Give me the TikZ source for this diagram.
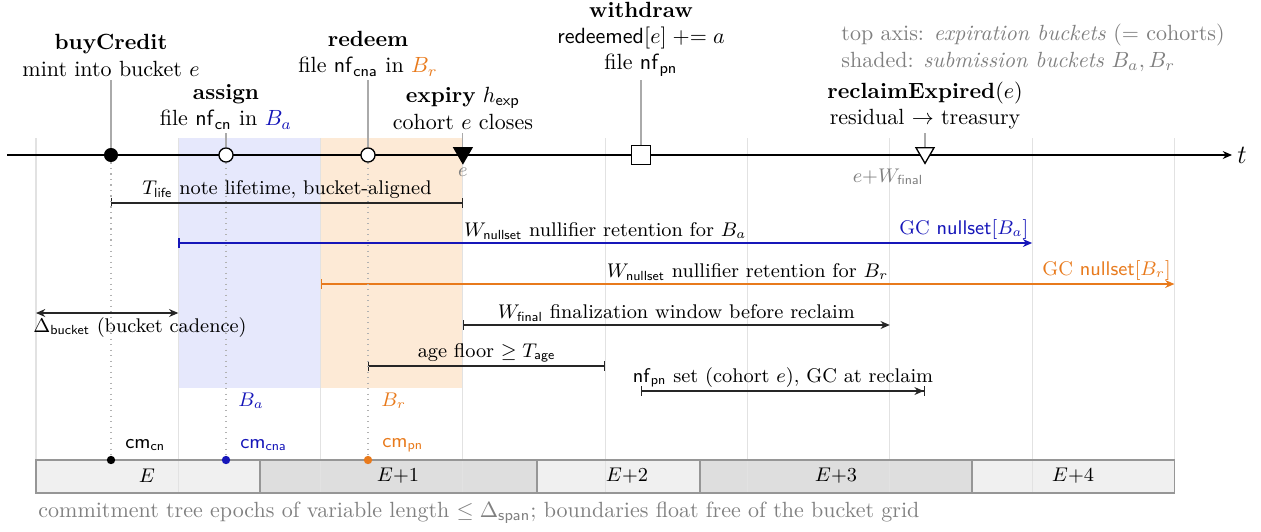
\documentclass[tikz,border=0pt]{standalone}
\usepackage{amsmath,amssymb}
\usetikzlibrary{arrows.meta,shapes.geometric}
\definecolor{cblue}{RGB}{22,22,185}
\definecolor{corange}{RGB}{232,122,28}
\definecolor{shadeblue}{RGB}{230,232,252}
\definecolor{shadeorange}{RGB}{253,234,214}
\definecolor{gridc}{RGB}{226,226,226}
\definecolor{epl}{RGB}{240,240,240}
\definecolor{epd}{RGB}{222,222,222}
\definecolor{epb}{RGB}{150,150,150}
\definecolor{stemc}{RGB}{170,170,170}
\definecolor{txtgray}{RGB}{128,128,128}
\tikzset{
  stem/.style={draw=stemc, line width=0.5pt},
  evlabel/.style={align=center, anchor=south, inner sep=1.5pt},
  rowlabel/.style={anchor=south, inner sep=1.5pt, font=\small},
  brk/.style={line width=0.6pt, draw=black!85},
  dotmark/.style={circle, fill=black, inner sep=0pt, minimum size=6.4pt},
  openmark/.style={circle, draw=black, fill=white, line width=0.6pt, inner sep=0pt, minimum size=6.4pt},
  cmdot/.style={circle, inner sep=0pt, minimum size=3.8pt},
  trimark/.style={regular polygon, regular polygon sides=3, shape border rotate=180, inner sep=0pt, minimum size=9.4pt, draw=black, line width=0.6pt},
  sqmark/.style={rectangle, draw=black, fill=white, line width=0.6pt, inner sep=0pt, minimum size=8.6pt},
  guide/.style={draw=black!30, dotted, line width=0.5pt},
  tipS/.tip={Stealth[length=4.2pt,width=3.6pt]},
  tipB/.tip={Bar[width=4.5pt]},
  small label/.style={inner sep=0pt, anchor=west, font=\small},
}
\begin{document}
\begin{tikzpicture}[x=0.4545pt,y=-0.4545pt]
\useasboundingbox (0,0) rectangle (1261,531);

% submission buckets shading
\fill[shadeblue] (178.3,138) rectangle (320.6,388);
\fill[shadeorange] (320.6,138) rectangle (462.9,388);

% epoch boxes
\fill[epl] (36,460) rectangle (260,493);
\fill[epd] (260,460) rectangle (537,493);
\fill[epl] (537,460) rectangle (700,493);
\fill[epd] (700,460) rectangle (972,493);
\fill[epl] (972,460) rectangle (1174.4,493);

% bucket grid
\foreach \k in {0,...,8} \draw[gridc, line width=0.5pt] (36+142.3*\k,138) -- (36+142.3*\k,493);

\draw[epb, line width=0.6pt] (36,460) rectangle (1174.4,493);
\foreach \x in {260,537,700,972} \draw[epb, line width=0.6pt] (\x,460) -- (\x,493);

\node[font=\small] (eE0) at (147,476) {$E$};
\node[font=\small] (eE1) at (398,476) {$E{+}1$};
\node[font=\small] (eE2) at (627,476) {$E{+}2$};
\node[font=\small] (eE3) at (836,476) {$E{+}3$};
\node[font=\small] (eE4) at (1073,476) {$E{+}4$};

% axis
\coordinate (ax0) at (7,155);
\coordinate (ax1) at (1232,155);
\draw[line width=0.6pt, -tipS] (ax0) -- (ax1);
\node (tlab) at (1242,155) {\large $t$};

% markers
\node[dotmark] (buy) at (111,155) {};
\node[openmark] (asg) at (226,155) {};
\node[openmark] (red) at (368,155) {};
\node[trimark, fill=black] (exp) at (462.9,153) {};
\node[sqmark] (wd) at (641,155) {};
\node[trimark, fill=white] (rec) at (925,153) {};

% event labels
\node[evlabel] (buyL) at (111,80) {\textbf{buyCredit}\\mint into bucket $e$};
\node[evlabel] (asgL) at (226,133) {\textbf{assign}\\file $\mathsf{nf}_{\mathsf{cn}}$ in {\color{cblue}$B_a$}};
\node[evlabel] (redL) at (368,80) {\textbf{redeem}\\file $\mathsf{nf}_{\mathsf{cna}}$ in {\color{corange}$B_r$}};
\node[evlabel] (expL) at (462.9,133) {\textbf{expiry} $h_{\mathsf{exp}}$\\cohort $e$ closes};
\node[evlabel] (wdL) at (641,80) {\textbf{withdraw}\\$\mathsf{redeemed}[e] \mathrel{+}= a$\\file $\mathsf{nf}_{\mathsf{pn}}$};
\node[evlabel] (recL) at (925,133) {\textbf{reclaimExpired}$(e)$\\residual $\rightarrow$ treasury};

\draw[stem] (buyL) -- (buy);
\draw[stem] (asgL) -- (asg);
\draw[stem] (redL) -- (red);
\draw[stem] (expL) -- (exp);
\draw[stem] (wdL) -- (wd);
\draw[stem] (recL) -- (rec);

\node[text=txtgray, font=\small] (eL) at (462.9,172) {$e$};
\node[text=txtgray, font=\small] (ewL) at (888,177) {$e{+}W_{\mathsf{final}}$};

% legend
\node[anchor=north west, align=left, inner sep=0pt, text=txtgray] (leg) at (841,24)
  {top axis: \textit{expiration buckets} (= cohorts)\\shaded: \textit{submission buckets} $B_a, B_r$};

% T_life
\coordinate (tl0) at (111,203); \coordinate (tl1) at (462.9,203);
\draw[brk, tipB-tipB] (tl0) -- (tl1) node[midway, rowlabel, text=black] (tlL) {$T_{\mathsf{life}}$ note lifetime, bucket-aligned};

% W_nullset for B_a
\coordinate (na0) at (178.3,243); \coordinate (na1) at (1032.1,243);
\draw[cblue, line width=0.6pt, tipB-tipS] (na0) -- (na1) node[midway, rowlabel, text=black] (naL) {$W_{\mathsf{nullset}}$ nullifier retention for $B_a$};
\node[rowlabel, anchor=south east, text=cblue] (gcaL) at (na1) {GC $\mathsf{nullset}[B_a]$};

% W_nullset for B_r
\coordinate (nr0) at (320.6,284); \coordinate (nr1) at (1174.4,284);
\draw[corange, line width=0.6pt, tipB-tipS] (nr0) -- (nr1) node[midway, rowlabel, text=black] (nrL) {$W_{\mathsf{nullset}}$ nullifier retention for $B_r$};
\node[rowlabel, anchor=south east, text=corange] (gcrL) at (nr1) {GC $\mathsf{nullset}[B_r]$};

% Delta_bucket
\coordinate (db0) at (36,313); \coordinate (db1) at (178.3,313);
\draw[brk, tipS-tipS] (db0) -- (db1);
\node[anchor=north west, inner sep=0pt, font=\small] (dbL) at (33,317) {$\Delta_{\mathsf{bucket}}$ (bucket cadence)};

% W_final
\coordinate (wf0) at (462.9,325); \coordinate (wf1) at (889.8,325);
\draw[brk, tipB-tipS] (wf0) -- (wf1) node[midway, rowlabel, text=black] (wfL) {$W_{\mathsf{final}}$ finalization window before reclaim};

% age floor
\coordinate (ag0) at (368,366); \coordinate (ag1) at (605.2,366);
\draw[brk, tipB-tipB] (ag0) -- (ag1) node[midway, rowlabel, text=black] (agL) {age floor $\geq T_{\mathsf{age}}$};

% nf_pn set
\coordinate (np0) at (641,391); \coordinate (np1) at (925,391);
\draw[brk, {Bar[width=4.5pt]}-{Stealth[length=4.2pt,width=3.6pt] Bar[width=4.5pt]}] (np0) -- (np1) node[midway, rowlabel, text=black] (npL) {$\mathsf{nf}_{\mathsf{pn}}$ set (cohort $e$), GC at reclaim};

% B labels
\node[small label, text=cblue] (baL) at (238,401) {$B_a$};
\node[small label, text=corange] (brL) at (381,401) {$B_r$};

% commitment dots
\node[cmdot, fill=black] (cmcn) at (111,460) {};
\node[cmdot, fill=cblue] (cmcna) at (226,460) {};
\node[cmdot, fill=corange] (cmpn) at (368,460) {};
\draw[guide] (buy) -- (cmcn);
\draw[guide] (asg) -- (cmcna);
\draw[guide] (red) -- (cmpn);

\node[small label] (cmcnL) at (125,445) {$\mathsf{cm}_{\mathsf{cn}}$};
\node[small label, text=cblue] (cmcnaL) at (240,445) {$\mathsf{cm}_{\mathsf{cna}}$};
\node[small label, text=corange] (cmpnL) at (382,445) {$\mathsf{cm}_{\mathsf{pn}}$};

% caption
\node[inner sep=0pt, anchor=west, text=txtgray] (cap) at (38,513) {commitment tree epochs of variable length $\leq \Delta_{\mathsf{span}}$; boundaries float free of the bucket grid};
\end{tikzpicture}
\end{document}
